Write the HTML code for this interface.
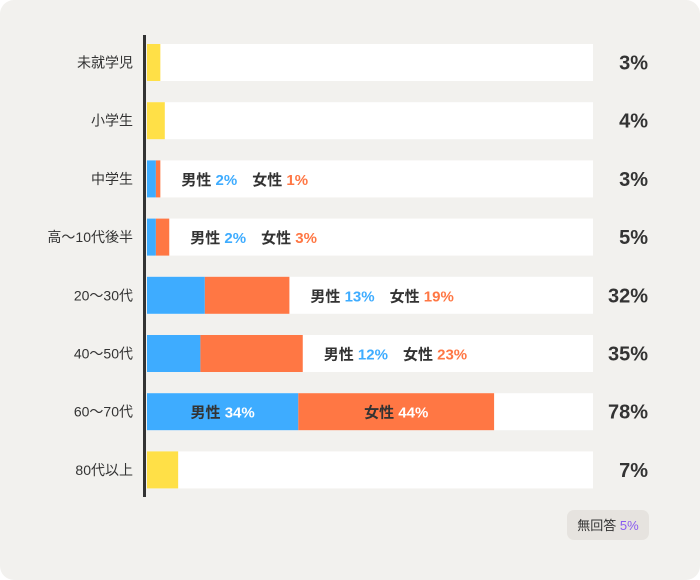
<!DOCTYPE html>
<html><head><meta charset="utf-8"><style>
html,body{margin:0;padding:0;background:#fff;}
#card{position:absolute;left:0;top:0;width:700px;height:580px;background:#f2f1ee;border-radius:14px;overflow:hidden;font-family:"Liberation Sans","Noto Sans CJK JP",sans-serif;}
svg text{font-family:"Liberation Sans","Noto Sans CJK JP",sans-serif;}
</style></head><body>
<div id="card">
<svg id="chart" width="700" height="580"></svg>
</div>
<script>
const categories=["未就学児","小学生","中学生","高〜10代後半","20〜30代","40〜50代","60〜70代","80代以上"];
const totals=[3,4,3,5,32,35,78,7];
const male=[null,null,2,2,13,12,34,null];
const female=[null,null,1,3,19,23,44,null];
const noAnswer=5;

const NS="http://www.w3.org/2000/svg";
const svg=document.getElementById('chart');
const x0=147, trackW=446, pxPer=4.45;
const rowTop=44, pitch=58.2, barH=37;
const xs=v=>x0+v*pxPer;
function mk(tag,attrs,parent){const e=document.createElementNS(NS,tag);for(const k in attrs)e.setAttribute(k,attrs[k]);(parent||svg).appendChild(e);return e;}

categories.forEach((c,i)=>{
  const y=rowTop+i*pitch, cy=y+barH/2;
  const g=mk('g',{});
  
  
  const tr=mk('rect',{x:x0,y:y,width:trackW,height:barH,fill:'#fff'},g);
  
  
  const lab=mk('text',{x:133,y:cy+5,'text-anchor':'end','font-size':14,fill:'#333'},g);
  lab.textContent=c;
  
  
  const tot=mk('text',{x:648,y:cy+7,'text-anchor':'end','font-size':20,'font-weight':'bold',fill:'#333'},g);
  tot.textContent=totals[i]+'%';
  
  
  if(male[i]==null){
    const b=mk('rect',{x:x0,y:y,width:totals[i]*pxPer,height:barH,fill:'#ffe047'},g);
    
    
  } else {
    const bm=mk('rect',{x:x0,y:y,width:male[i]*pxPer,height:barH,fill:'#3eacff'},g);
    
    
    const bf=mk('rect',{x:xs(male[i]),y:y,width:female[i]*pxPer,height:barH,fill:'#ff7744'},g);
    
    
    const end=xs(male[i]+female[i]);
    if(male[i]+female[i]>50){
      const t1=mk('text',{x:xs(male[i]/2),y:cy+6,'text-anchor':'middle','font-size':15,'font-weight':'bold',fill:'#333'},g);
      t1.innerHTML='男性 <tspan fill="#fff">'+male[i]+'%</tspan>';
      
      
      const t2=mk('text',{x:xs(male[i]+female[i]/2),y:cy+6,'text-anchor':'middle','font-size':15,'font-weight':'bold',fill:'#333'},g);
      t2.innerHTML='女性 <tspan fill="#fff">'+female[i]+'%</tspan>';
      
      
    } else {
      const t=mk('text',{x:end+21,y:cy+6,'font-size':15,'font-weight':'bold',fill:'#333'},g);
      t.innerHTML='男性 <tspan fill="#3eacff">'+male[i]+'%</tspan>　女性 <tspan fill="#ff7744">'+female[i]+'%</tspan>';
      
      
    }
  }
});
const ax=mk('rect',{x:143,y:35,width:3,height:462,fill:'#333'});


const nb=mk('rect',{x:567,y:510,width:82,height:30,rx:7,fill:'#e6e3df'});


const nt=mk('text',{x:608,y:530,'text-anchor':'middle','font-size':13,fill:'#333'});
nt.innerHTML='無回答 <tspan fill="#8a5cf0">'+noAnswer+'%</tspan>';


</script>
</body></html>
